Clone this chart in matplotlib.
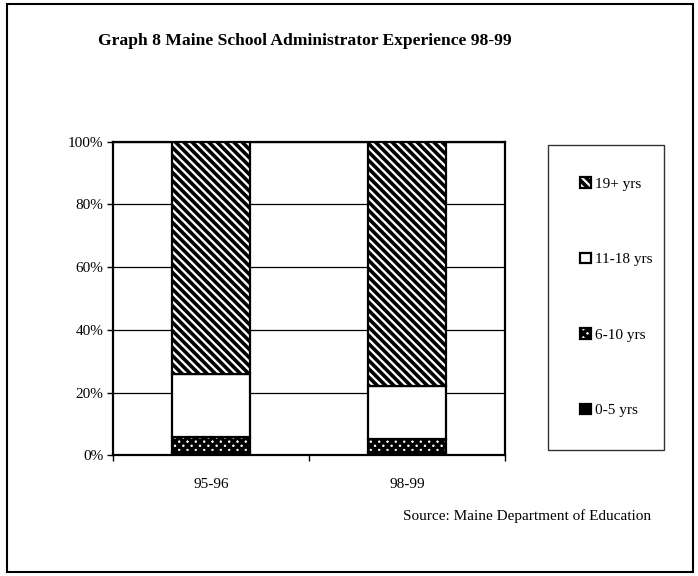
import numpy as np
import matplotlib
matplotlib.use('Agg')
import matplotlib.pyplot as plt
from matplotlib.patches import Rectangle
from matplotlib.ticker import FixedLocator, PercentFormatter

# values (percent of administrators)
years = ['95-96', '98-99']
yrs_0_5 = [1.0, 1.0]
yrs_6_10 = [5.0, 4.3]
yrs_11_18 = [20.0, 16.8]
yrs_19_plus = [74.0, 77.9]
groups = ['0-5 yrs', '6-10 yrs', '11-18 yrs', '19+ yrs']

plt.rcParams['font.family'] = ['Liberation Serif', 'DejaVu Serif']
plt.rcParams['hatch.linewidth'] = 2.6
plt.rcParams['hatch.color'] = 'black'

fig = plt.figure(figsize=(6.98, 5.76), dpi=100)
ax = fig.add_axes([113/698, 1-455.4/576, 392/698, 313.7/576])

x = np.arange(len(years))
w = 0.4
series = [yrs_0_5, yrs_6_10, yrs_11_18, yrs_19_plus]
faces = ['black', 'white', 'white', 'white']
hatches = [None, 'xxxx', None, '\\\\\\\\']
bottom = np.zeros(len(years))
handles = []
for vals, fc, h, lab in zip(series, faces, hatches, groups):
    b = ax.bar(x, vals, w, bottom=bottom, color=fc, edgecolor='black',
               hatch=h, linewidth=1.6, label=lab, zorder=3)
    handles.append(b)
    bottom += np.array(vals)

ax.set_xlim(-0.5, 1.5)
ax.set_ylim(0, 100)
ax.set_yticks([0, 20, 40, 60, 80, 100])
ax.yaxis.set_major_formatter(PercentFormatter(decimals=0))
ax.yaxis.grid(True, color='black', linewidth=0.9)
ax.set_axisbelow(True)
ax.set_xticks(x)
ax.set_xticklabels(years)
ax.xaxis.set_minor_locator(FixedLocator([-0.5, 0.5, 1.5]))
ax.tick_params(axis='x', which='major', length=0, pad=16, labelsize=11)
ax.tick_params(axis='x', which='minor', length=4, width=1, direction='out')
ax.tick_params(axis='y', length=4, width=1, direction='out', pad=3, labelsize=11)
for s in ax.spines.values():
    s.set_linewidth(1.6)
    s.set_color('black')

leg = fig.legend(handles[::-1], groups[::-1],
                 bbox_to_anchor=(548/698, 0, 116/698, 1-145/576),
                 loc='upper left', mode='expand', fontsize=11,
                 frameon=True, fancybox=False, edgecolor='black',
                 borderpad=2.1, labelspacing=4.05, handlelength=0.7,
                 handleheight=0.7, handletextpad=0.25, borderaxespad=0)
leg.get_frame().set_linewidth(1.0)

fig.text(98/698, 1-45/576, 'Graph 8 Maine School Administrator Experience 98-99',
         fontsize=12.6, fontweight='bold', va='baseline', ha='left')
fig.text(403/698, 1-516/576, 'Source: Maine Department of Education',
         fontsize=11, va='center', ha='left')

fig.patches.append(Rectangle((7/698, 4/576), 686/698, 568/576, transform=fig.transFigure,
                             fill=False, edgecolor='black', linewidth=1.5))

fig.savefig('out.png', dpi=100)
